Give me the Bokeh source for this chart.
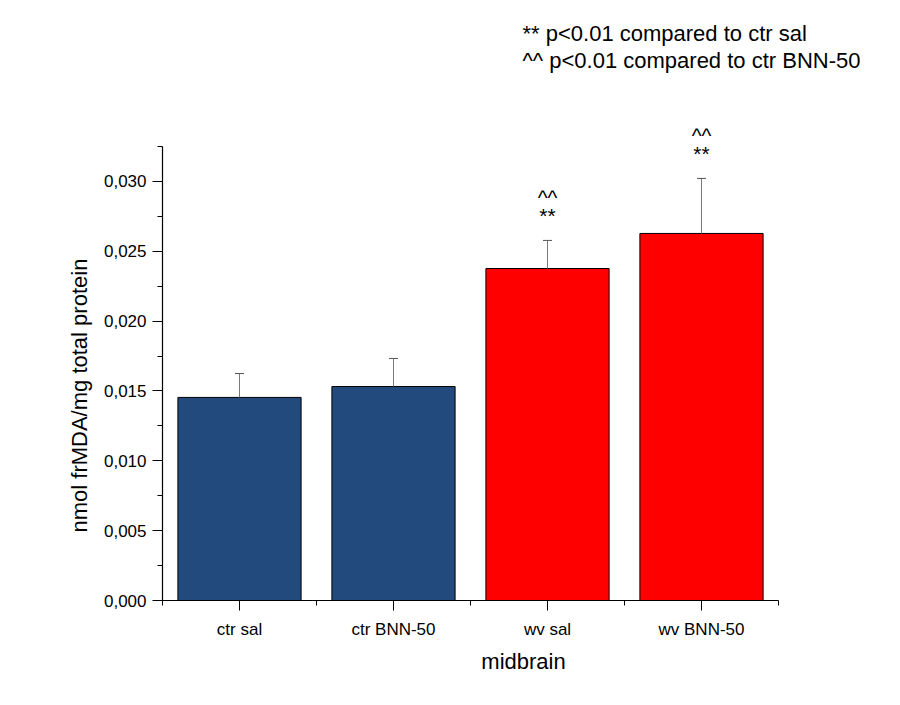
from bokeh.plotting import figure
from bokeh.models import (ColumnDataSource, Range1d, FixedTicker, SingleIntervalTicker,
                          CustomJSTickFormatter, Whisker, TeeHead, Label, Title)
from bokeh.embed import file_html
from bokeh.resources import INLINE
from bokeh.core.properties import value

categories = ["ctr sal", "ctr BNN-50", "wv sal", "wv BNN-50"]
means = [0.01454, 0.01532, 0.02377, 0.02628]
errors = [0.00171, 0.00201, 0.00201, 0.00394]
colors = ["#224A7D", "#224A7D", "#FF0000", "#FF0000"]
sig_stars = ["", "", "**", "**"]
sig_carets = ["", "", "^^", "^^"]
notes = ["** p<0.01 compared to ctr sal", "^^ p<0.01 compared to ctr BNN-50"]
y_title = "nmol frMDA/mg total protein"
x_title = "midbrain"

FONT = "Liberation Sans"
xs = [i + 1 for i in range(len(categories))]
src = ColumnDataSource(dict(
    x=xs, top=means, upper=[m + e for m, e in zip(means, errors)],
    color=colors, stars=sig_stars, carets=sig_carets))

# frame: left edge at px 162, bottom at px 600; 154 px per category, 13967 px per unit of y
W, H = 884, 689
left, bottom = 162, 600
x_end = 0.5 + (W - left) / 154.0
y_end = bottom / 13967.0

p = figure(width=W, height=H, output_backend="svg", toolbar_location=None,
           x_range=Range1d(0.5, x_end), y_range=Range1d(0, y_end),
           min_border_left=left, min_border_right=0, min_border_top=0,
           min_border_bottom=H - bottom)
p.outline_line_color = None
p.grid.visible = False
p.background_fill_color = "white"
p.border_fill_color = "white"

p.vbar(x="x", top="top", width=0.8, bottom=0, source=src, fill_color="color",
       line_color="black", line_width=1)

wh = Whisker(base="x", upper="upper", lower="top", source=src, dimension="height",
             line_color="#7a7a7a", line_width=1,
             upper_head=TeeHead(size=9, line_color="#555555", line_width=1), lower_head=None)
wh.level = "overlay"
p.add_layout(wh)

p.text(x="x", y="upper", text="stars", source=src, y_offset=-25, text_align="center",
       text_baseline="middle", text_font=value(FONT), text_font_size="21px", text_color="black")
p.text(x="x", y="upper", text="carets", source=src, y_offset=-43, text_align="center",
       text_baseline="middle", text_font=value(FONT), text_font_size="21px", text_color="black")

# axes
xa = p.xaxis[0]
xa.ticker = FixedTicker(ticks=xs, minor_ticks=[x - 0.5 for x in xs] + [xs[-1] + 0.5])
xa.major_label_overrides = {x: c for x, c in zip(xs, categories)}
xa.bounds = (0.5, len(categories) + 0.5)
xa.axis_label = x_title
ya = p.yaxis[0]
ya.ticker = SingleIntervalTicker(interval=0.005, num_minor_ticks=2)
ya.formatter = CustomJSTickFormatter(code="return tick.toFixed(3).replace('.', ',');")
ya.bounds = (0, 0.0325)

for ax in (xa, ya):
    ax.axis_line_color = "black"
    ax.axis_line_width = 1.2
    ax.major_tick_line_color = "black"
    ax.minor_tick_line_color = "black"
    ax.major_tick_in = 0
    ax.minor_tick_in = 0
    ax.major_tick_out = 10
    ax.minor_tick_out = 5
    ax.major_label_text_font = FONT
    ax.major_label_text_font_size = "17px"
    ax.major_label_text_color = "black"
    ax.axis_label_text_font = FONT
    ax.axis_label_text_font_size = "22px"
    ax.axis_label_text_font_style = "normal"
    ax.axis_label_text_color = "black"
ya.major_label_standoff = 6
xa.major_label_standoff = 9
xa.axis_label_standoff = 7

# y-axis title placed as a side title so it can sit over the axis' extent, not the frame
p.add_layout(Title(text=y_title, align="left", offset=68, standoff=18,
                   text_font=FONT, text_font_size="22px", text_font_style="normal",
                   text_color="black"), "left")

for i, note in enumerate(notes):
    p.add_layout(Label(x=360, y=567 - 27 * i, x_units="screen", y_units="screen", text=note,
                       text_font=FONT, text_font_size="22px", text_baseline="middle",
                       text_color="black"))

open("out.html", "w").write(file_html(p, INLINE))
